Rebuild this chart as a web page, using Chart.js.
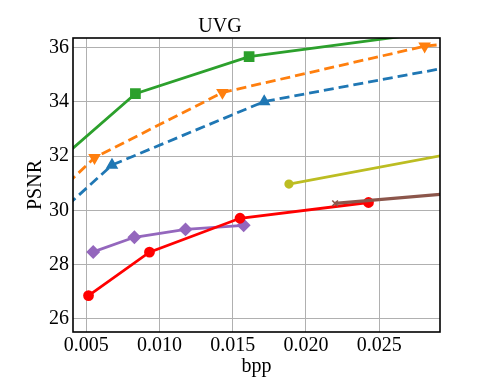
<!DOCTYPE html>
<html>
<head>
<meta charset="utf-8">
<script src="https://cdn.jsdelivr.net/npm/chart.js@4"></script>
<style>
html,body{margin:0;padding:0;background:#fff;}
#wrap{width:488px;height:391px;}
</style>
</head>
<body>
<div id="wrap"><canvas id="c" width="488" height="391"></canvas></div>
<script>
// Data (points outside the axis range only shape the clipped line ends)
const greenX  = [0.0030, 0.00836, 0.01612, 0.0320];
const greenY  = [31.78, 34.30, 35.66, 36.80];
const orangeX = [0.0030, 0.00557, 0.0143, 0.0281, 0.0350];
const orangeY = [30.62, 31.94, 34.34, 36.05, 36.40];
const blueX   = [0.0030, 0.00676, 0.01715, 0.0350];
const blueY   = [29.83, 31.67, 34.01, 35.80];
const purpleX = [0.00548, 0.00829, 0.01178, 0.01575];
const purpleY = [28.47, 29.01, 29.30, 29.45];
const redX    = [0.00516, 0.00932, 0.0155, 0.02427];
const redY    = [26.86, 28.46, 29.71, 30.29];
const brownX  = [0.02199, 0.0350];
const brownY  = [30.26, 30.86];
const oliveX  = [0.01884, 0.0350];
const oliveY  = [30.97, 32.60];
const xTicks  = [0.005, 0.010, 0.015, 0.020, 0.025];
const yTicks  = [26, 28, 30, 32, 34, 36];

const pts = (xs, ys) => xs.map((x, i) => ({x: x, y: ys[i]}));
const serif = "'Liberation Serif', 'Times New Roman', serif";

const framePlugin = {
  id: 'frame',
  afterDatasetsDraw(chart) {
    const a = chart.chartArea, ctx = chart.ctx;
    ctx.save();
    ctx.strokeStyle = '#000';
    ctx.lineWidth = 1.6;
    ctx.strokeRect(a.left, a.top, a.right - a.left, a.bottom - a.top);
    ctx.restore();
  }
};

function line(label, data, color, opts) {
  return Object.assign({
    label: label, data: data, borderColor: color, backgroundColor: color,
    pointBackgroundColor: color, pointBorderColor: color,
    borderWidth: 2.8, fill: false, tension: 0, showLine: true
  }, opts);
}

new Chart(document.getElementById('c'), {
  type: 'scatter',
  data: {
    datasets: [
      line('brown', pts(brownX, brownY), '#8c564b', {pointStyle: 'crossRot', pointRadius: 4, pointBorderWidth: 1.6, borderWidth: 3.2}),
      line('red', pts(redX, redY), '#ff0000', {pointStyle: 'circle', pointRadius: 4}),
      line('purple', pts(purpleX, purpleY), '#9467bd', {pointStyle: 'rectRot', pointRadius: 5}),
      line('olive', pts(oliveX, oliveY), '#bcbd22', {pointStyle: 'circle', pointRadius: 3.2}),
      line('green', pts(greenX, greenY), '#2ca02c', {pointStyle: 'rect', pointRadius: 5.6}),
      line('orange', pts(orangeX, orangeY), '#ff7f0e', {pointStyle: 'triangle', rotation: 180, pointRadius: 4.5, borderDash: [10, 5]}),
      line('blue', pts(blueX, blueY), '#1f77b4', {pointStyle: 'triangle', pointRadius: 4.5, borderDash: [10, 5]})
    ]
  },
  options: {
    responsive: false,
    animation: false,
    devicePixelRatio: 1,
    layout: {padding: {top: 13, right: 48, bottom: 0, left: 0}},
    plugins: {
      legend: {display: false},
      tooltip: {enabled: false},
      title: {display: true, text: 'UVG', color: '#000',
              font: {family: serif, size: 20, weight: 'normal', lineHeight: 1.0}, padding: {top: 4, bottom: 1}}
    },
    scales: {
      x: {
        type: 'linear', min: 0.0041, max: 0.02915,
        afterFit(s) { s.height = 59; },
        border: {display: false},
        grid: {color: '#b0b0b0', lineWidth: 1, drawTicks: false},
        ticks: {includeBounds: false, stepSize: 0.005, padding: 2, color: '#000',
                font: {family: serif, size: 20},
                callback: v => { const t = xTicks.find(k => Math.abs(k - v) < 1e-9); return t === undefined ? '' : t.toFixed(3); },
                maxRotation: 0, autoSkip: false},
        title: {display: true, text: 'bpp', color: '#000', font: {family: serif, size: 20}, padding: {top: 0, bottom: 12}}
      },
      y: {
        type: 'linear', min: 25.52, max: 36.35,
        afterFit(s) { s.width = 73; },
        border: {display: false},
        grid: {color: '#b0b0b0', lineWidth: 1, drawTicks: false},
        ticks: {includeBounds: false, stepSize: 2, padding: 4, color: '#000',
                font: {family: serif, size: 20},
                callback: v => { const t = yTicks.find(k => Math.abs(k - v) < 1e-9); return t === undefined ? '' : String(t); }},
        title: {display: true, text: 'PSNR', color: '#000', font: {family: serif, size: 20}, padding: {top: 24, bottom: 0}}
      }
    }
  },
  plugins: [framePlugin]
});
</script>
</body>
</html>
